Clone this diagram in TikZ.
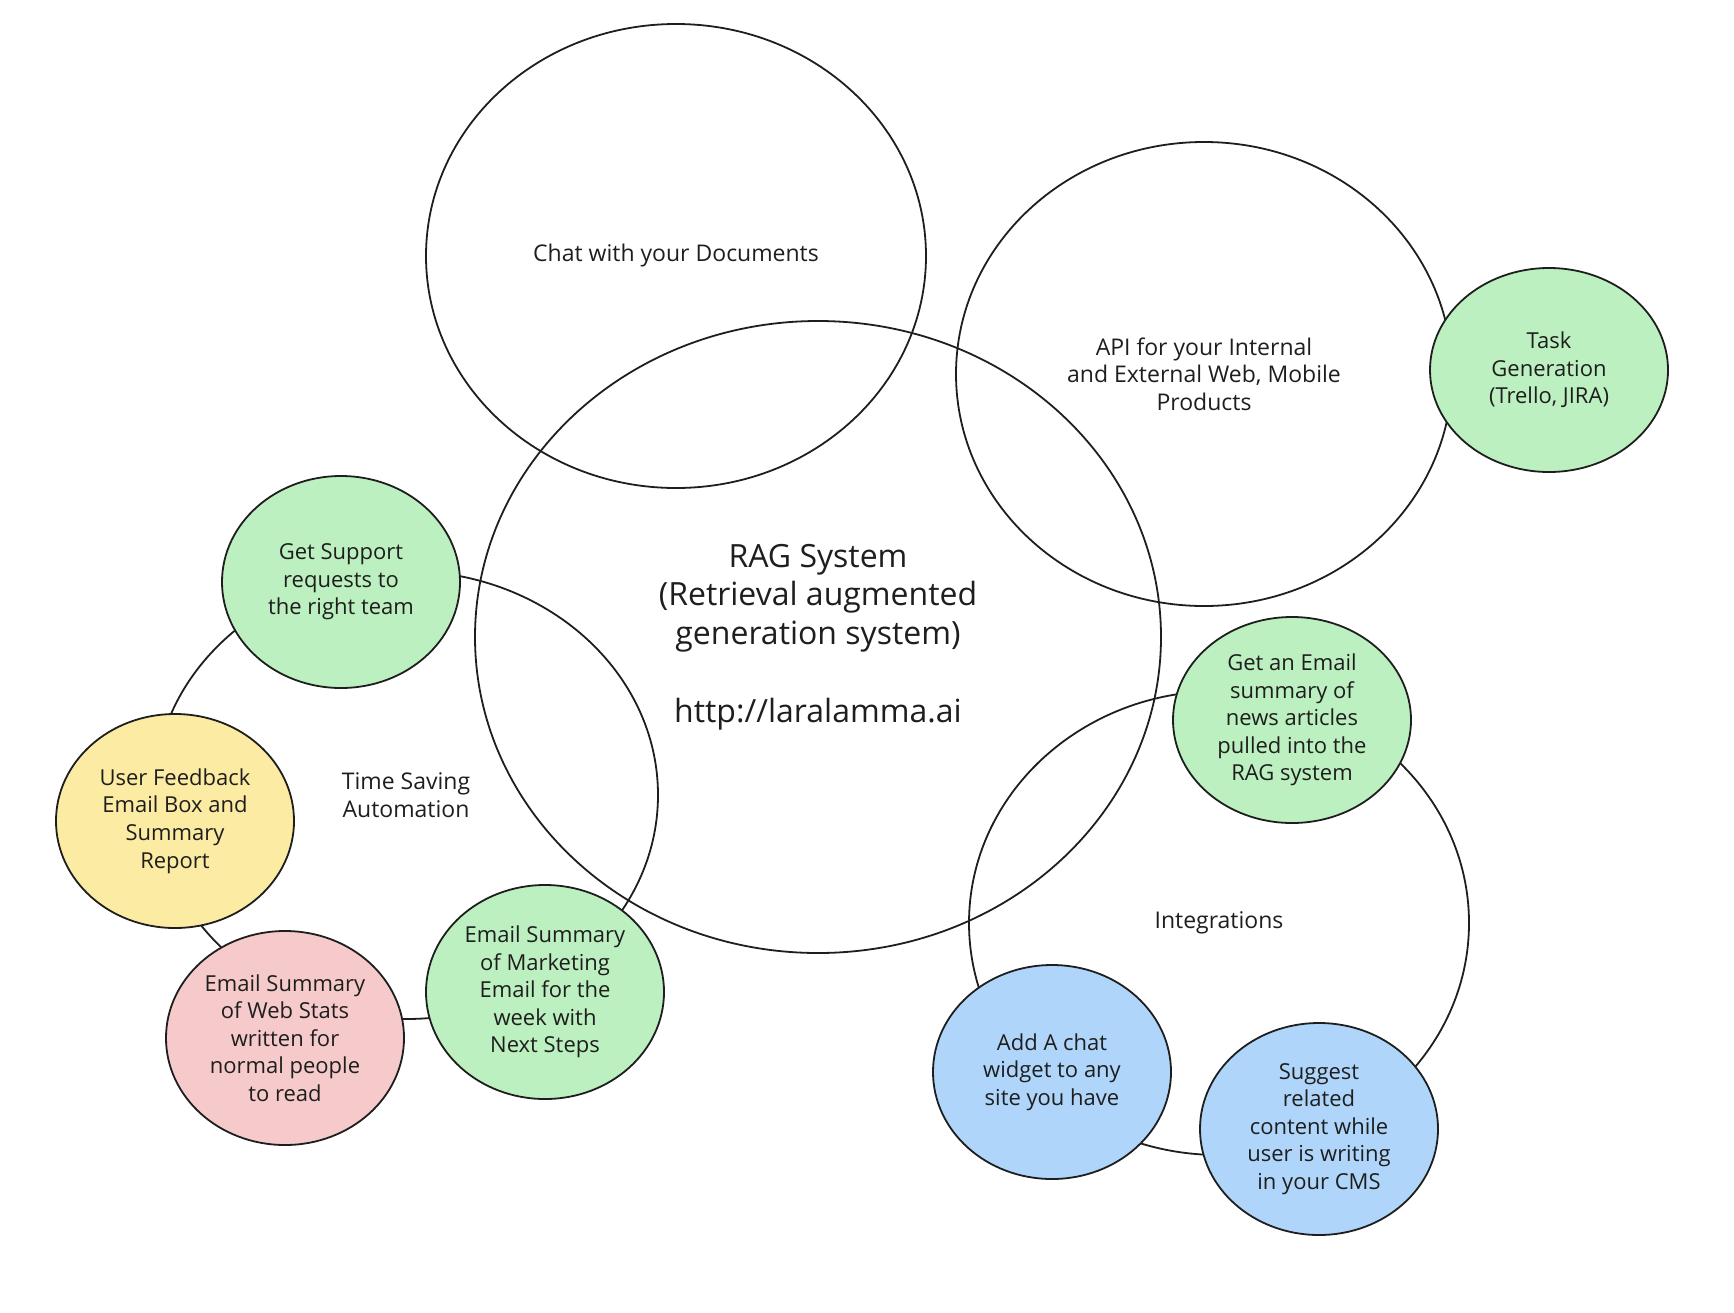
\documentclass[tikz,border=0pt]{standalone}
\usepackage{fontspec}
\setmainfont{Open Sans}
\usetikzlibrary{shapes.geometric}

\definecolor{ideagreen}{HTML}{BDF0C0}
\definecolor{ideayellow}{HTML}{FCEBA2}
\definecolor{ideapink}{HTML}{F6CACA}
\definecolor{ideablue}{HTML}{AFD6FA}
\definecolor{pen}{HTML}{1E1E1E}

\begin{document}
\begin{tikzpicture}[x=0.5pt, y=-0.5pt,
  every node/.style={align=center, inner sep=0pt, text=pen},
  bigcircle/.style={ellipse, draw=pen, line width=0.9pt, font=\fontsize{11.5}{13.8}\selectfont},
  idea/.style={ellipse, draw=pen, line width=0.9pt, minimum width=119pt, minimum height=107pt,
    font=\fontsize{11}{13.8}\selectfont}]
\useasboundingbox (0,0) rectangle (1734,1312);

% big circles
\node[bigcircle, minimum width=250pt, minimum height=232pt] (chat) at (676,256) {Chat with your Documents};
\node[bigcircle, minimum width=343pt, minimum height=316pt, font=\fontsize{16}{19.4}\selectfont] (rag) at (818,637)
  {RAG System\\(Retrieval augmented\\generation system)\\[19.4pt]http://laralamma.ai};
\node[bigcircle, minimum width=248pt, minimum height=232pt] (api) at (1204,374)
  {API for your Internal\\and External Web, Mobile\\Products};
\node[bigcircle, minimum width=252pt, minimum height=224pt] (timesaving) at (406,795) {Time Saving\\Automation};
\node[bigcircle, minimum width=250pt, minimum height=232pt] (integrations) at (1219,923) {Integrations};

% ideas round the circles
\node[idea, fill=ideagreen, minimum height=102pt] (task) at (1549,370) {Task\\Generation\\(Trello, JIRA)};
\node[idea, fill=ideagreen, minimum height=106pt] (support) at (341,582) {Get Support\\requests to\\the right team};
\node[idea, fill=ideayellow] (feedback) at (175,821) {User Feedback\\Email Box and\\Summary\\Report};
\node[idea, fill=ideapink] (webstats) at (285,1038) {Email Summary\\of Web Stats\\written for\\normal people\\to read};
\node[idea, fill=ideagreen] (marketing) at (545,992) {Email Summary\\of Marketing\\Email for the\\week with\\Next Steps};
\node[idea, fill=ideagreen, minimum height=103pt] (newsmail) at (1292,720)
  {Get an Email\\summary of\\news articles\\pulled into the\\RAG system};
\node[idea, fill=ideablue] (chatwidget) at (1052,1072) {Add A chat\\widget to any\\site you have};
\node[idea, fill=ideablue, minimum height=106pt] (suggest) at (1319,1129)
  {Suggest\\related\\content while\\user is writing\\in your CMS};

\end{tikzpicture}
\end{document}
